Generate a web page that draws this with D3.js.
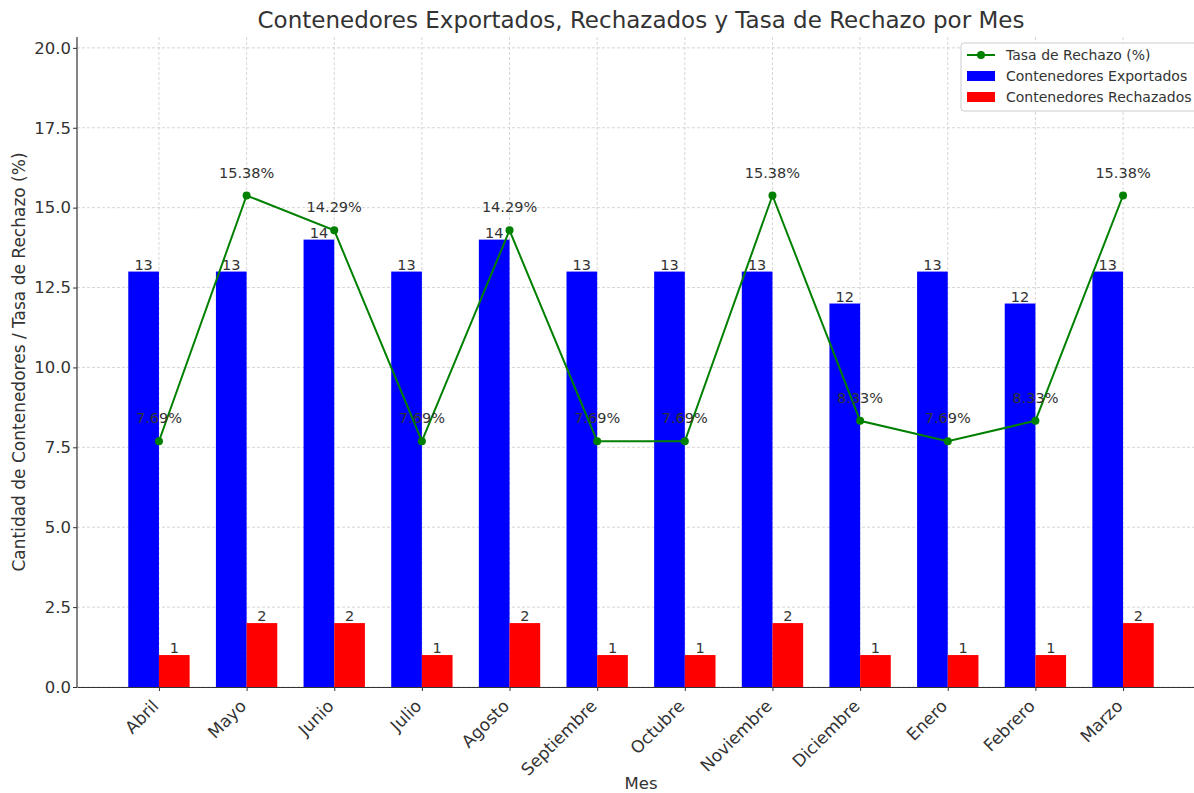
<!DOCTYPE html>
<html>
<head>
<meta charset="utf-8">
<script src="https://cdn.jsdelivr.net/npm/d3@7"></script>
<style>
  body { margin: 0; background: #fff; }
  text { font-family: "DejaVu Sans", sans-serif; }
</style>
</head>
<body>
<script>
// datos
const meses = ["Abril", "Mayo", "Junio", "Julio", "Agosto", "Septiembre", "Octubre",
  "Noviembre", "Diciembre", "Enero", "Febrero", "Marzo"];
const exportados = [13, 13, 14, 13, 14, 13, 13, 13, 12, 13, 12, 13];
const rechazados = [1, 2, 2, 1, 2, 1, 1, 2, 1, 1, 1, 2];
const tasa = [7.69, 15.38, 14.29, 7.69, 14.29, 7.69, 7.69, 15.38, 8.33, 7.69, 8.33, 15.38];
const yTicks = [0, 2.5, 5, 7.5, 10, 12.5, 15, 17.5, 20];

const width = 1194, height = 793;
const pLeft = 77, pRight = 1205, pTop = 37, pBottom = 687;
const barW = 0.35;
const txt = "#333";

const svg = d3.select("body").append("svg")
  .attr("width", width)
  .attr("height", height);

// escala x numérica (índice del mes), como matplotlib
const x = d3.scaleLinear().domain([-0.935, 11.935]).range([pLeft, pRight]);
const y = d3.scaleLinear().domain([0, 20.34]).range([pBottom, pTop]);

// rejilla
svg.append("g").selectAll("line")
  .data(yTicks).join("line")
  .attr("x1", pLeft).attr("x2", pRight)
  .attr("y1", d => y(d)).attr("y2", d => y(d))
  .attr("stroke", "#ccc").attr("stroke-width", 0.8).attr("stroke-dasharray", "3,2");
svg.append("g").selectAll("line")
  .data(meses).join("line")
  .attr("x1", (d, i) => x(i)).attr("x2", (d, i) => x(i))
  .attr("y1", pTop).attr("y2", pBottom)
  .attr("stroke", "#ccc").attr("stroke-width", 0.8).attr("stroke-dasharray", "3,2");

// barras exportados
svg.append("g").selectAll("rect")
  .data(exportados).join("rect")
  .attr("x", (d, i) => x(i - barW))
  .attr("y", d => y(d))
  .attr("width", x(barW) - x(0))
  .attr("height", d => y(0) - y(d))
  .attr("fill", "blue");

// barras rechazados
svg.append("g").selectAll("rect")
  .data(rechazados).join("rect")
  .attr("x", (d, i) => x(i))
  .attr("y", d => y(d))
  .attr("width", x(barW) - x(0))
  .attr("height", d => y(0) - y(d))
  .attr("fill", "red");

// etiquetas de barras
svg.append("g").selectAll("text")
  .data(exportados).join("text")
  .attr("x", (d, i) => x(i - barW / 2))
  .attr("y", d => y(d) - 2)
  .attr("text-anchor", "middle")
  .attr("font-size", 14.5).attr("fill", txt)
  .text(d => d);
svg.append("g").selectAll("text")
  .data(rechazados).join("text")
  .attr("x", (d, i) => x(i + barW / 2))
  .attr("y", d => y(d) - 2)
  .attr("text-anchor", "middle")
  .attr("font-size", 14.5).attr("fill", txt)
  .text(d => d);

// línea de tasa
const line = d3.line().x((d, i) => x(i)).y(d => y(d));
svg.append("path")
  .datum(tasa)
  .attr("d", line)
  .attr("fill", "none")
  .attr("stroke", "green")
  .attr("stroke-width", 2);
svg.append("g").selectAll("circle")
  .data(tasa).join("circle")
  .attr("cx", (d, i) => x(i)).attr("cy", d => y(d))
  .attr("r", 4).attr("fill", "green");
svg.append("g").selectAll("text")
  .data(tasa).join("text")
  .attr("x", (d, i) => x(i))
  .attr("y", d => y(d) - 18)
  .attr("text-anchor", "middle")
  .attr("font-size", 14.5).attr("fill", txt)
  .text(d => d.toFixed(2) + "%");

// ejes
const yAxis = svg.append("g")
  .attr("transform", `translate(${pLeft},0)`)
  .call(d3.axisLeft(y).tickValues(yTicks).tickFormat(d3.format(".1f"))
    .tickSizeOuter(0).tickSize(4).tickPadding(2));
yAxis.select(".domain").attr("stroke", "#333").attr("stroke-width", 1.2)
  .attr("d", `M0,${pTop}V${pBottom}`);
yAxis.selectAll(".tick line").attr("stroke", "#333");
yAxis.selectAll(".tick text").attr("font-size", 16.5).attr("fill", txt)
  .attr("font-family", "DejaVu Sans");

const xAxis = svg.append("g")
  .attr("transform", `translate(0,${pBottom})`)
  .call(d3.axisBottom(x).tickValues(d3.range(meses.length)).tickFormat(i => meses[i])
    .tickSize(4).tickSizeOuter(0));
xAxis.select(".domain").attr("stroke", "#333").attr("stroke-width", 1.2);
xAxis.selectAll(".tick line").attr("stroke", "#333");
xAxis.selectAll(".tick text")
  .attr("font-size", 17).attr("fill", txt).attr("font-family", "DejaVu Sans")
  .attr("text-anchor", "end")
  .attr("dy", "0.35em")
  .attr("transform", "translate(-4,16) rotate(-45)")
  .attr("y", 0).attr("x", 0);

// títulos
svg.append("text")
  .attr("x", (pLeft + pRight) / 2).attr("y", 28)
  .attr("text-anchor", "middle").attr("font-size", 23).attr("fill", txt)
  .text("Contenedores Exportados, Rechazados y Tasa de Rechazo por Mes");
svg.append("text")
  .attr("x", (pLeft + pRight) / 2).attr("y", 789)
  .attr("text-anchor", "middle").attr("font-size", 16.5).attr("fill", txt)
  .text("Mes");
svg.append("text")
  .attr("transform", `translate(25,${(pTop + pBottom) / 2}) rotate(-90)`)
  .attr("text-anchor", "middle").attr("font-size", 17).attr("fill", txt)
  .text("Cantidad de Contenedores / Tasa de Rechazo (%)");

// leyenda
const leg = svg.append("g").attr("transform", "translate(961,43)");
leg.append("rect")
  .attr("width", 250).attr("height", 68).attr("rx", 3)
  .attr("fill", "white").attr("fill-opacity", 0.85)
  .attr("stroke", "#ccc");
const items = [
  { name: "Tasa de Rechazo (%)", tipo: "linea", color: "green" },
  { name: "Contenedores Exportados", tipo: "barra", color: "blue" },
  { name: "Contenedores Rechazados", tipo: "barra", color: "red" }
];
items.forEach((d, i) => {
  const g = leg.append("g").attr("transform", `translate(6,${12 + i * 21})`);
  if (d.tipo === "linea") {
    g.append("line").attr("x1", 0).attr("x2", 28).attr("stroke", d.color).attr("stroke-width", 2);
    g.append("circle").attr("cx", 14).attr("r", 4).attr("fill", d.color);
  } else {
    g.append("rect").attr("x", 0).attr("y", -5).attr("width", 28).attr("height", 10).attr("fill", d.color);
  }
  g.append("text").attr("x", 39).attr("dy", "0.35em")
    .attr("font-size", 14).attr("fill", txt).text(d.name);
});
</script>
</body>
</html>
